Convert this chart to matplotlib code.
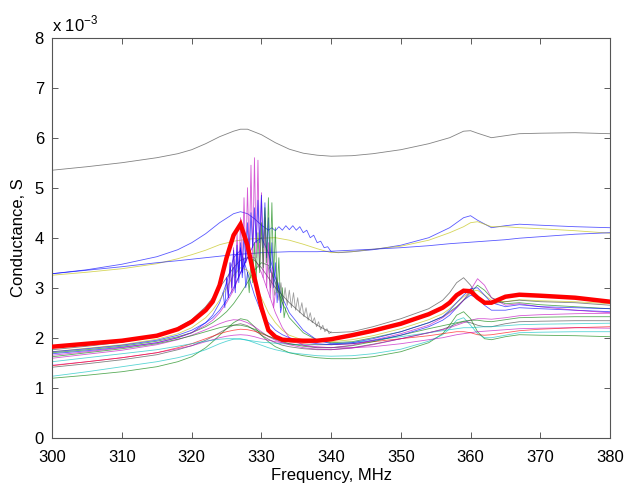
import matplotlib
matplotlib.use("Agg")
import matplotlib.pyplot as plt

plt.rcParams["font.family"] = ["Liberation Sans", "DejaVu Sans"]
plt.rcParams["mathtext.fontset"] = "custom"
plt.rcParams["mathtext.rm"] = "Liberation Sans"

# colours (old matlab line colours)
C = {"b": (0, 0, 1), "g": (0, 0.5, 0), "r": (1, 0, 0), "c": (0, 0.75, 0.75),
     "m": (0.75, 0, 0.75), "y": (0.75, 0.75, 0), "k": (0.25, 0.25, 0.25)}

# ---- upper curves, conductance in 1e-3 S ----
freq_top = [300, 305, 310, 315, 318, 320, 322, 324, 326, 327, 328, 330, 332, 334, 336, 338,
            340, 343, 346, 350, 354, 357, 359, 360, 361, 363, 365, 367, 370, 375, 380]
g_black_top = [5.35, 5.42, 5.5, 5.6, 5.68, 5.76, 5.88, 6.02, 6.13, 6.17,
               6.17, 6.06, 5.9, 5.77, 5.69, 5.65, 5.63, 5.64, 5.68, 5.76,
               5.88, 6.0, 6.13, 6.14, 6.09, 6.0, 6.04, 6.08, 6.09, 6.1, 6.08]
g_blue_low = [3.28, 3.35, 3.42, 3.5, 3.54, 3.57, 3.6, 3.63, 3.66, 3.67,
              3.68, 3.7, 3.71, 3.72, 3.72, 3.72, 3.73, 3.75, 3.77, 3.8,
              3.84, 3.88, 3.9, 3.91, 3.92, 3.94, 3.96, 3.99, 4.02, 4.07, 4.1]
g_yellow_top = [3.25, 3.31, 3.38, 3.48, 3.58, 3.66, 3.75, 3.86, 3.93, 3.95,
                3.97, 3.99, 4.0, 3.95, 3.87, 3.78, 3.7, 3.72, 3.77, 3.83,
                3.95, 4.1, 4.22, 4.3, 4.32, 4.22, 4.22, 4.2, 4.18, 4.14, 4.09]

freq_blue_up = [300, 305, 310, 315, 318, 320, 322, 324, 326, 327, 328, 329, 330, 331,
                331.5, 332, 332.5, 333, 333.5, 334, 334.5, 335, 335.5, 336, 336.5, 337,
                337.5, 338, 338.5, 339, 339.5, 340, 341, 343, 346, 350, 354, 357, 359,
                360, 361, 363, 365, 367, 370, 375, 380]
g_blue_up = [3.28, 3.36, 3.47, 3.62, 3.76, 3.9, 4.08, 4.3, 4.48, 4.52,
             4.48, 4.38, 4.25, 4.15,
             4.2, 4.14, 4.22, 4.15, 4.24, 4.16, 4.24, 4.15, 4.22, 4.1, 4.15, 4.0,
             4.05, 3.9, 3.93, 3.8, 3.82, 3.72,
             3.7, 3.72, 3.76, 3.85, 4.0, 4.2, 4.4, 4.44, 4.35, 4.2, 4.24, 4.27, 4.25, 4.22, 4.2]

# ---- lower group ----
freq = [300, 305, 310, 315, 318, 320, 322, 323, 324, 325, 326, 327, 328, 329, 330, 331,
        332, 333, 334, 336, 338, 340, 343, 346, 350, 354, 356, 357, 358, 359, 360, 361,
        362, 363, 365, 367, 370, 375, 380]

g_red_bold = [1.82, 1.88, 1.94, 2.04, 2.17, 2.32, 2.55, 2.72, 3.05, 3.6,
              4.05, 4.27, 3.85, 3.2, 2.6, 2.15, 2.02, 1.96, 1.95, 1.94,
              1.94, 1.97, 2.05, 2.14, 2.28, 2.47, 2.6, 2.7, 2.85, 2.94,
              2.93, 2.8, 2.7, 2.7, 2.82, 2.86, 2.84, 2.8, 2.72]
g_gray = [1.76, 1.83, 1.91, 2.03, 2.2, 2.36, 2.62, 2.8, 3.0, 3.2,
          3.4, 3.55, 3.6, 3.55, 3.4, 3.2, 3.0, 2.85, 2.7, 2.45,
          2.25, 2.1, 2.12, 2.22, 2.38, 2.58, 2.75, 2.9, 3.1, 3.2,
          3.05, 2.8, 2.7, 2.68, 2.72, 2.75, 2.72, 2.7, 2.65]
g_blue1 = [1.72, 1.78, 1.85, 1.95, 2.05, 2.15, 2.3, 2.4, 2.55, 2.75,
           3.0, 3.3, 3.6, 3.9, 4.0, 3.7, 3.2, 2.8, 2.5, 2.15,
           1.95, 1.88, 1.9, 1.98, 2.12, 2.3, 2.42, 2.55, 2.7, 2.85,
           2.98, 3.0, 2.85, 2.7, 2.62, 2.66, 2.62, 2.6, 2.58]
g_magenta1 = [1.65, 1.72, 1.8, 1.9, 2.0, 2.1, 2.25, 2.35, 2.5, 2.7,
              2.95, 3.3, 3.6, 3.6, 3.3, 2.9, 2.5, 2.2, 2.0, 1.85,
              1.8, 1.8, 1.85, 1.95, 2.08, 2.25, 2.4, 2.5, 2.6, 2.75,
              2.95, 3.18, 3.05, 2.8, 2.65, 2.68, 2.62, 2.55, 2.5]
g_green1 = [1.7, 1.76, 1.83, 1.93, 2.02, 2.1, 2.22, 2.3, 2.4, 2.52,
            2.68, 2.88, 3.1, 3.35, 3.5, 3.45, 3.1, 2.7, 2.4, 2.1,
            1.95, 1.9, 1.92, 2.0, 2.12, 2.3, 2.42, 2.52, 2.62, 2.75,
            2.9, 3.05, 2.95, 2.8, 2.68, 2.7, 2.66, 2.62, 2.58]
g_yellow1 = [1.72, 1.79, 1.86, 1.97, 2.08, 2.2, 2.4, 2.55, 2.75, 3.0,
             3.25, 3.4, 3.35, 3.1, 2.8, 2.5, 2.3, 2.15, 2.05, 1.95,
             1.92, 1.92, 1.96, 2.04, 2.18, 2.36, 2.48, 2.58, 2.7, 2.82,
             2.92, 2.95, 2.85, 2.75, 2.72, 2.76, 2.74, 2.72, 2.68]
g_blue2 = [1.68, 1.74, 1.81, 1.9, 2.0, 2.1, 2.3, 2.45, 2.7, 3.1,
           3.6, 3.75, 3.3, 2.85, 2.5, 2.3, 2.15, 2.06, 2.0, 1.92,
           1.88, 1.86, 1.88, 1.94, 2.05, 2.22, 2.35, 2.45, 2.6, 2.75,
           2.85, 2.8, 2.65, 2.55, 2.55, 2.6, 2.58, 2.55, 2.52]
g_green2 = [1.19, 1.25, 1.32, 1.42, 1.52, 1.62, 1.8, 1.92, 2.05, 2.18,
            2.3, 2.38, 2.35, 2.22, 2.05, 1.92, 1.82, 1.76, 1.7, 1.64,
            1.6, 1.58, 1.58, 1.62, 1.72, 1.9, 2.08, 2.25, 2.45, 2.52,
            2.38, 2.12, 1.98, 1.96, 2.02, 2.06, 2.05, 2.04, 2.02]
g_cyan1 = [1.23, 1.32, 1.42, 1.52, 1.6, 1.67, 1.76, 1.82, 1.88, 1.93,
           1.97, 1.98, 1.95, 1.9, 1.85, 1.8, 1.76, 1.73, 1.7, 1.67,
           1.64, 1.63, 1.64, 1.68, 1.77, 1.93, 2.06, 2.18, 2.35, 2.4,
           2.25, 2.08, 2.0, 2.0, 2.05, 2.1, 2.11, 2.12, 2.12]
g_cyan2 = [1.52, 1.6, 1.68, 1.76, 1.83, 1.88, 1.93, 1.95, 1.97, 1.98,
           1.98, 1.97, 1.95, 1.93, 1.91, 1.9, 1.89, 1.88, 1.87, 1.86,
           1.86, 1.87, 1.9, 1.95, 2.02, 2.1, 2.14, 2.16, 2.18, 2.2,
           2.2, 2.21, 2.22, 2.22, 2.24, 2.26, 2.27, 2.28, 2.29]
g_red_thin = [1.44, 1.52, 1.6, 1.7, 1.8, 1.88, 1.98, 2.03, 2.08, 2.12,
              2.15, 2.17, 2.16, 2.13, 2.08, 2.03, 1.98, 1.95, 1.92, 1.88,
              1.86, 1.86, 1.88, 1.92, 1.98, 2.04, 2.08, 2.1, 2.12, 2.12,
              2.1, 2.06, 2.05, 2.06, 2.1, 2.14, 2.17, 2.2, 2.22]
g_magenta2 = [1.45, 1.52, 1.6, 1.7, 1.78, 1.84, 1.92, 1.96, 2.0, 2.03,
              2.05, 2.06, 2.05, 2.02, 1.98, 1.95, 1.92, 1.9, 1.88, 1.85,
              1.82, 1.8, 1.8, 1.82, 1.88, 1.96, 2.0, 2.03, 2.06, 2.08,
              2.1, 2.12, 2.13, 2.14, 2.16, 2.18, 2.19, 2.2, 2.19]
g_magenta3 = [1.59, 1.67, 1.75, 1.86, 1.96, 2.05, 2.16, 2.22, 2.28, 2.33,
              2.36, 2.35, 2.3, 2.22, 2.12, 2.02, 1.95, 1.9, 1.86, 1.8,
              1.77, 1.76, 1.79, 1.86, 1.98, 2.1, 2.16, 2.2, 2.25, 2.3,
              2.35, 2.38, 2.38, 2.37, 2.4, 2.44, 2.46, 2.48, 2.49]
g_green3 = [1.62, 1.7, 1.78, 1.88, 1.97, 2.04, 2.12, 2.16, 2.2, 2.23,
            2.25, 2.25, 2.22, 2.17, 2.1, 2.03, 1.97, 1.92, 1.88, 1.83,
            1.8, 1.8, 1.84, 1.92, 2.05, 2.18, 2.24, 2.27, 2.3, 2.33,
            2.35, 2.35, 2.33, 2.32, 2.36, 2.4, 2.41, 2.42, 2.42]
g_dark = [1.41, 1.48, 1.56, 1.66, 1.76, 1.84, 1.95, 2.02, 2.1, 2.18,
          2.25, 2.28, 2.24, 2.15, 2.05, 1.97, 1.9, 1.85, 1.82, 1.78,
          1.76, 1.76, 1.8, 1.87, 1.98, 2.1, 2.17, 2.22, 2.28, 2.32,
          2.3, 2.25, 2.22, 2.22, 2.28, 2.32, 2.33, 2.34, 2.34]

# ---- ringing (spiky) parts near the main resonance ----
spk_m_f = [325.0, 325.25, 325.5, 325.75, 326.0, 326.25, 326.5, 326.75, 327.0, 327.25,
           327.5, 327.75, 328.0, 328.25, 328.5, 328.75, 329.0, 329.25, 329.5, 329.75,
           330.0, 330.25, 330.5, 330.75, 331.0, 331.25, 331.5, 331.75, 332.0]
spk_m_v = [3.2, 2.8, 3.5, 2.9, 3.8, 3.0, 4.1, 3.2, 4.4, 3.3,
           4.8, 3.5, 5.0, 3.6, 5.45, 3.6, 5.6, 3.6, 5.55, 3.4,
           4.9, 3.2, 4.4, 3.0, 3.9, 2.8, 3.4, 2.6, 2.9]
spk_b_f = [326.0, 326.25, 326.5, 326.75, 327.0, 327.25, 327.5, 327.75, 328.0, 328.25,
           328.5, 328.75, 329.0, 329.25, 329.5, 329.75, 330.0, 330.25, 330.5, 330.75,
           331.0, 331.25, 331.5, 331.75, 332.0, 332.25, 332.5, 332.75, 333.0]
spk_b_v = [3.4, 2.9, 3.7, 3.1, 3.9, 3.3, 4.1, 3.5, 4.3, 3.6,
           4.5, 3.8, 4.6, 3.9, 4.75, 3.9, 4.85, 3.8, 4.7, 3.6,
           4.4, 3.3, 3.9, 3.0, 3.5, 2.7, 3.1, 2.5, 2.7]
spk_g_f = [328.0, 328.25, 328.5, 328.75, 329.0, 329.25, 329.5, 329.75, 330.0, 330.25,
           330.5, 330.75, 331.0, 331.25, 331.5, 331.75, 332.0, 332.25, 332.5, 332.75,
           333.0, 333.25, 333.5]
spk_g_v = [3.3, 2.9, 3.6, 3.1, 3.9, 3.2, 4.1, 3.3, 4.3, 3.4,
           4.6, 3.5, 4.8, 3.4, 4.7, 3.2, 4.2, 2.9, 3.6, 2.6,
           3.0, 2.4, 2.6]
spk_k_f = [331.0, 331.3, 331.6, 331.9, 332.2, 332.5, 332.8, 333.1, 333.4, 333.7,
           334.0, 334.3, 334.6, 334.9, 335.2, 335.5, 335.8, 336.1, 336.4, 336.7,
           337.0, 337.3, 337.6, 337.9, 338.2, 338.5, 338.8, 339.1, 339.4, 339.7, 340.0]
spk_k_v = [3.4, 3.0, 3.3, 2.85, 3.2, 2.75, 3.1, 2.7, 3.0, 2.65,
           2.95, 2.6, 2.9, 2.55, 2.8, 2.5, 2.7, 2.42, 2.6, 2.35,
           2.5, 2.3, 2.4, 2.22, 2.32, 2.16, 2.25, 2.12, 2.18, 2.08, 2.12]
spk_b2_f = [324.5, 324.75, 325.0, 325.25, 325.5, 325.75, 326.0, 326.25, 326.5, 326.75,
            327.0, 327.25, 327.5, 327.75, 328.0]
spk_b2_v = [2.9, 2.6, 3.2, 2.8, 3.5, 3.0, 3.75, 3.2, 3.85, 3.3,
            3.8, 3.2, 3.6, 3.0, 3.3]

x_ticks = [300, 310, 320, 330, 340, 350, 360, 370, 380]
y_ticks = [0, 1, 2, 3, 4, 5, 6, 7, 8]


fig = plt.figure(figsize=(6.28, 4.87), dpi=100)
ax = fig.add_axes([0.0833, 0.1012, 0.888, 0.8214])

thin = dict(lw=0.6, alpha=0.65, zorder=2)

ax.plot(freq_top, g_black_top, color=C["k"], **thin)
ax.plot(freq_blue_up, g_blue_up, color=C["b"], **thin)
ax.plot(freq_top, g_yellow_top, color=C["y"], **thin)
ax.plot(freq_top, g_blue_low, color=C["b"], **thin)

lower = [(g_green2, "g"), (g_cyan1, "c"), (g_dark, "k"), (g_magenta2, "m"),
         (g_red_thin, "r"), (g_cyan2, "c"), (g_magenta3, "m"), (g_green3, "g"),
         (g_blue2, "b"), (g_yellow1, "y"), (g_green1, "g"), (g_magenta1, "m"),
         (g_blue1, "b"), (g_gray, "k")]
for vals, col in lower:
    ax.plot(freq, vals, color=C[col], **thin)

ax.plot(spk_m_f, spk_m_v, color=C["m"], **thin)
ax.plot(spk_b_f, spk_b_v, color=C["b"], **thin)
ax.plot(spk_g_f, spk_g_v, color=C["g"], **thin)
ax.plot(spk_k_f, spk_k_v, color=C["k"], lw=0.6, alpha=0.5, zorder=2)
ax.plot(spk_b2_f, spk_b2_v, color=C["b"], **thin)

ax.plot(freq, g_red_bold, color=C["r"], lw=3.2, zorder=3, solid_joinstyle="miter")

ax.set_xlim(300, 380)
ax.set_ylim(0, 8)
ax.set_xticks(x_ticks)
ax.set_yticks(y_ticks)
ax.tick_params(direction="in", length=4, width=0.6, top=True, right=True,
               labelsize=12, colors="#404040", labelcolor="black")
ax.tick_params(axis="x", pad=9)
ax.tick_params(axis="y", pad=6)
for s in ax.spines.values():
    s.set_color("#555555")
    s.set_linewidth(0.8)

ax.set_xlabel("Frequency, MHz", fontsize=12, labelpad=2)
ax.set_ylabel("Conductance, S", fontsize=12, labelpad=6)
ax.text(0.0, 1.008, r"x 10$^{-3}$", transform=ax.transAxes, fontsize=12,
        ha="left", va="bottom")

fig.savefig("out.png", dpi=100, facecolor="white")
